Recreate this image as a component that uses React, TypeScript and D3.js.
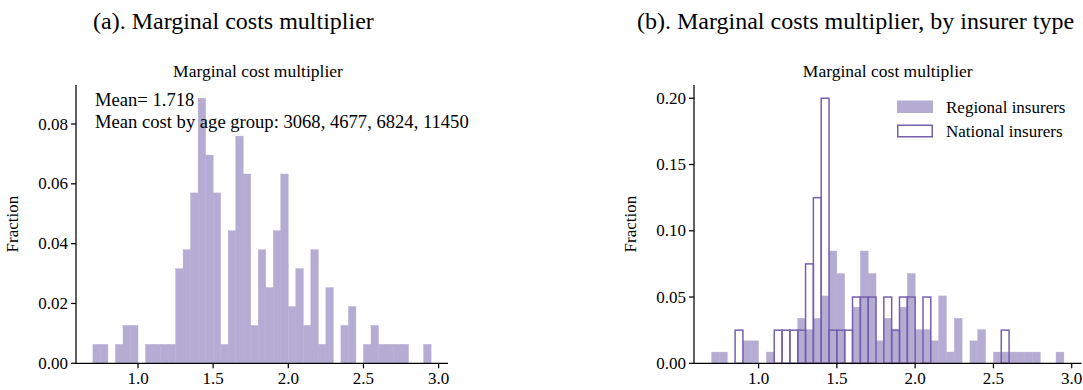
import React from "react";
import * as d3 from "d3";

// Histogram bins: 45 bins of width 0.05 starting at 0.70
const binStart = 0.7;
const binWidth = 0.05;

// Counts per bin, all insurers (panel a)
const allCounts = [
  1, 1, 0, 1, 2, 2, 0, 1, 1, 1, 1, 5, 6, 9, 14, 11, 9, 1, 7, 12, 10, 2, 6, 4, 7,
  10, 3, 5, 2, 6, 1, 4, 0, 2, 3, 0, 1, 2, 1, 1, 1, 1, 0, 0, 1,
];

// Counts per bin, regional insurers (panel b, filled)
const regionalCounts = [
  1, 1, 0, 0, 2, 2, 0, 1, 0, 0, 0, 4, 3, 4, 6, 10, 8, 0, 5, 10, 8, 2, 4, 3, 5,
  8, 3, 3, 2, 6, 1, 4, 0, 2, 3, 0, 1, 1, 1, 1, 1, 1, 0, 0, 1,
];

// Counts per bin, national insurers (panel b, outlined)
const nationalCounts = [
  0, 0, 0, 1, 0, 0, 0, 0, 1, 1, 1, 1, 3, 5, 8, 1, 1, 1, 2, 2, 2, 0, 2, 1, 2,
  2, 0, 2, 0, 0, 0, 0, 0, 0, 0, 0, 0, 1, 0, 0, 0, 0, 0, 0, 0,
];

const xTicks = [1.0, 1.5, 2.0, 2.5, 3.0];
const yTicksA = [0, 0.02, 0.04, 0.06, 0.08];
const yTicksB = [0, 0.05, 0.1, 0.15, 0.2];

const meanText = "Mean= 1.718";
const ageText = "Mean cost by age group: 3068, 4677, 6824, 11450";
const legendLabels = ["Regional insurers", "National insurers"];

const FONT = "'Liberation Serif', 'Times New Roman', 'DejaVu Serif', serif";
const FILL = "#b4acd3";
const EDGE = "#7560ad";

type Bin = { x0: number; x1: number; v: number };

function toBins(counts: number[]): Bin[] {
  const total = d3.sum(counts);
  return counts.map((c, i) => ({
    x0: binStart + i * binWidth,
    x1: binStart + (i + 1) * binWidth,
    v: c / total,
  }));
}

const xMin = binStart;
const xMax = binStart + allCounts.length * binWidth;
const xPad = (xMax - xMin) * 0.05;

function Axes({
  left,
  right,
  top,
  bottom,
  yTicks,
  x,
  y,
}: {
  left: number;
  right: number;
  top: number;
  bottom: number;
  yTicks: number[];
  x: d3.ScaleLinear<number, number>;
  y: d3.ScaleLinear<number, number>;
}) {
  const fmtY = d3.format(".2f");
  const fmtX = d3.format(".1f");
  return (
    <g fontFamily={FONT} fontSize={17} fill="#000">
      <line x1={left} x2={right} y1={bottom} y2={bottom} stroke="#000" strokeWidth={1.25} />
      <line x1={left} x2={left} y1={top} y2={bottom} stroke="#000" strokeWidth={1.25} />
      {xTicks.map((t) => (
        <g key={"x" + t}>
          <line x1={x(t)} x2={x(t)} y1={bottom} y2={bottom + 5} stroke="#000" strokeWidth={1.25} />
          <text x={x(t)} y={bottom + 21} textAnchor="middle">
            {fmtX(t)}
          </text>
        </g>
      ))}
      {yTicks.map((t) => (
        <g key={"y" + t}>
          <line x1={left - 5} x2={left} y1={y(t)} y2={y(t)} stroke="#000" strokeWidth={1.25} />
          <text x={left - 8} y={y(t)} dy="0.33em" textAnchor="end">
            {fmtY(t)}
          </text>
        </g>
      ))}
    </g>
  );
}

export default function App() {
  const W = 1083;
  const H = 390;
  const top = 85;
  const bottom = 363.3;

  // Panel (a)
  const aLeft = 76;
  const aRight = 448;
  const binsA = toBins(allCounts);
  const xa = d3.scaleLinear().domain([xMin - xPad, xMax + xPad]).range([aLeft, aRight]);
  const yaMax = (d3.max(binsA, (b) => b.v) as number) * 1.05;
  const ya = d3.scaleLinear().domain([0, yaMax]).range([bottom, top]);

  // Panel (b)
  const bLeft = 694;
  const bRight = 1081.5;
  const binsR = toBins(regionalCounts);
  const binsN = toBins(nationalCounts);
  const xb = d3.scaleLinear().domain([xMin - xPad, xMax + xPad]).range([bLeft, bRight]);
  const ybMax =
    Math.max(d3.max(binsR, (b) => b.v) as number, d3.max(binsN, (b) => b.v) as number) * 1.05;
  const yb = d3.scaleLinear().domain([0, ybMax]).range([bottom, top]);

  return (
    <svg
      width={W}
      height={H}
      viewBox={`0 0 ${W} ${H}`}
      style={{ position: "absolute", left: 0, top: 0, background: "#fff" }}
    >
      <rect x={0} y={0} width={W} height={H} fill="#fff" />

      {/* Panel headings */}
      <text x={93} y={29} fontFamily={FONT} fontSize={24}>
        (a). Marginal costs multiplier
      </text>
      <text x={637} y={29} fontFamily={FONT} fontSize={24}>
        (b). Marginal costs multiplier, by insurer type
      </text>

      {/* Panel (a): all insurers */}
      <text x={(aLeft + aRight) / 2 - 4} y={77} textAnchor="middle" fontFamily={FONT} fontSize={17.5}>
        Marginal cost multiplier
      </text>
      <g>
        {binsA
          .filter((b) => b.v > 0)
          .map((b, i) => (
            <rect
              key={i}
              x={xa(b.x0)}
              y={ya(b.v)}
              width={xa(b.x1) - xa(b.x0)}
              height={ya(0) - ya(b.v)}
              fill={FILL}
              stroke={FILL}
              strokeWidth={0.4}
            />
          ))}
      </g>
      <Axes left={aLeft} right={aRight} top={top} bottom={bottom} yTicks={yTicksA} x={xa} y={ya} />
      <text
        transform={`translate(18,${(top + bottom) / 2}) rotate(-90)`}
        textAnchor="middle"
        fontFamily={FONT}
        fontSize={17}
      >
        Fraction
      </text>
      <text x={95} y={106} fontFamily={FONT} fontSize={18.6}>
        {meanText}
      </text>
      <text x={95} y={127.5} fontFamily={FONT} fontSize={18.6}>
        {ageText}
      </text>

      {/* Panel (b): regional vs national */}
      <text x={(bLeft + bRight) / 2} y={77} textAnchor="middle" fontFamily={FONT} fontSize={17.5}>
        Marginal cost multiplier
      </text>
      <g>
        {binsR
          .filter((b) => b.v > 0)
          .map((b, i) => (
            <rect
              key={i}
              x={xb(b.x0)}
              y={yb(b.v)}
              width={xb(b.x1) - xb(b.x0)}
              height={yb(0) - yb(b.v)}
              fill={FILL}
              stroke={FILL}
              strokeWidth={0.4}
            />
          ))}
      </g>
      <g>
        {binsN
          .filter((b) => b.v > 0)
          .map((b, i) => (
            <rect
              key={i}
              x={xb(b.x0)}
              y={yb(b.v)}
              width={xb(b.x1) - xb(b.x0)}
              height={yb(0) - yb(b.v)}
              fill="none"
              stroke={EDGE}
              strokeWidth={1.5}
            />
          ))}
      </g>
      <Axes left={bLeft} right={bRight} top={top} bottom={bottom} yTicks={yTicksB} x={xb} y={yb} />
      <text
        transform={`translate(636,${(top + bottom) / 2}) rotate(-90)`}
        textAnchor="middle"
        fontFamily={FONT}
        fontSize={17}
      >
        Fraction
      </text>

      {/* Legend */}
      <g fontFamily={FONT} fontSize={17}>
        <rect x={897} y={100.5} width={36} height={12.5} fill={FILL} />
        <text x={946} y={112.5}>
          {legendLabels[0]}
        </text>
        <rect x={897.75} y={125.25} width={34.5} height={11.5} fill="#fff" stroke={EDGE} strokeWidth={1.5} />
        <text x={946} y={137}>
          {legendLabels[1]}
        </text>
      </g>
    </svg>
  );
}
